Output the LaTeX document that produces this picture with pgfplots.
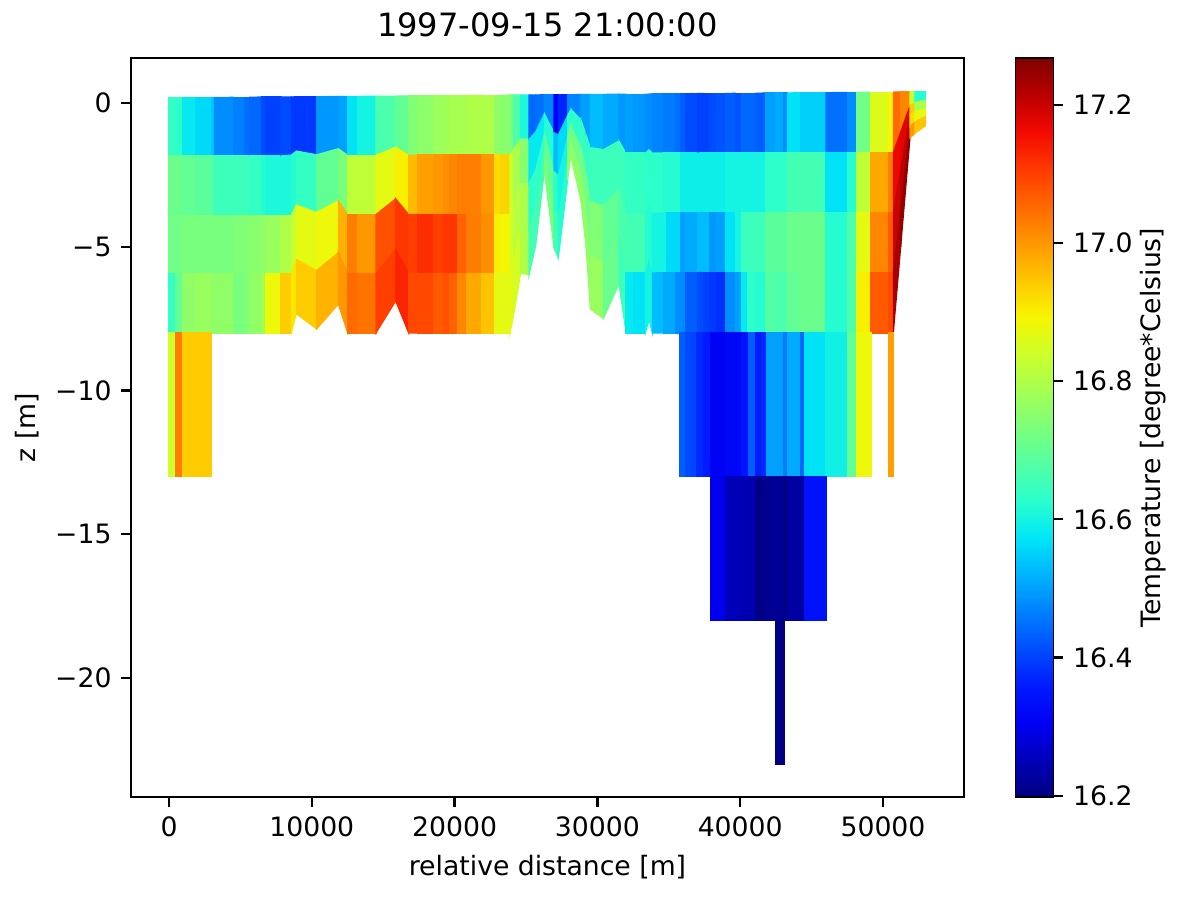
\documentclass[border=0pt]{standalone}
\usepackage{fontspec}
\setmainfont{DejaVu Sans}
\usepackage{pgfplots}
\pgfplotsset{compat=1.18}
\pgfplotsset{
  colormap={mpljet}{
    rgb=(0,0,0.5) rgb=(0,0,0.727) rgb=(0,0,0.955) rgb=(0,0.1,1) rgb=(0,0.3,1)
    rgb=(0,0.5,1) rgb=(0,0.7,1) rgb=(0,0.9,0.968) rgb=(0.161,1,0.806) rgb=(0.323,1,0.645)
    rgb=(0.484,1,0.484) rgb=(0.645,1,0.323) rgb=(0.806,1,0.161) rgb=(0.968,0.963,0) rgb=(1,0.778,0)
    rgb=(1,0.593,0) rgb=(1,0.407,0) rgb=(1,0.222,0) rgb=(0.955,0.037,0) rgb=(0.727,0,0) rgb=(0.5,0,0)
  }
}
\begin{document}
\begin{tikzpicture}
\path[use as bounding box] (-47.16bp,-36.36bp) rectangle (379.8bp,286.92bp);
\begin{axis}[
  at={(0,0)}, anchor=south west,
  scale only axis, width=299.88bp, height=266.04bp,
  xmin=-2661, xmax=55672, ymin=-24.14, ymax=1.565,
  colormap name=mpljet,
  point meta min=16.198, point meta max=17.268,
  tick align=outside, tick pos=left,
  major tick length=3.5bp,
  every tick/.style={black, line width=0.8bp},
  axis line style={line width=0.8bp},
  scaled x ticks=false,
  xtick={0,10000,20000,30000,40000,50000},
  xticklabels={0,10000,20000,30000,40000,50000},
  ytick={-20,-15,-10,-5,0},
  yticklabels={−20,−15,−10,−5,0},
  tick label style={font=\fontsize{9.6bp}{12bp}\selectfont},
  label style={font=\fontsize{9.6bp}{12bp}\selectfont},
  xlabel={relative distance [m]},
  ylabel={z [m]},
  ylabel style={yshift=-1bp},
  title={1997-09-15 21:00:00},
  title style={font=\fontsize{11.55bp}{14bp}\selectfont, yshift=-2bp},
  colorbar,
  colorbar style={
    at={(parent axis.north east)}, anchor=north west, xshift=10.08bp,
    width=13.68bp,
    tick align=outside, ytick pos=right, major tick length=3.5bp,
    ytick={16.2,16.4,16.6,16.8,17.0,17.2},
    yticklabels={16.2,16.4,16.6,16.8,17.0,17.2},
    tick label style={font=\fontsize{9.6bp}{12bp}\selectfont},
    ylabel={Temperature [degree*Celsius]},
    ylabel style={font=\fontsize{9.6bp}{12bp}\selectfont, yshift=4bp},
  },
]
% upper four layers: one line per x edge, colour belongs to the cell right of and below the vertex
\addplot[surf, shader=flat corner, point meta=explicit, mesh/ordering=y varies, mesh/rows=5] coordinates {
(0,0.18)[16.64] (0,-1.84)[16.71] (0,-3.90)[16.72] (0,-5.95)[16.64] (0,-8)[16.64]
(467,0.18)[16.63] (467,-1.84)[16.71] (467,-3.90)[16.72] (467,-5.95)[16.70] (467,-8)[16.70]
(957,0.18)[16.58] (957,-1.84)[16.70] (957,-3.90)[16.73] (957,-5.95)[16.76] (957,-8)[16.76]
(1867,0.19)[16.56] (1867,-1.84)[16.69] (1867,-3.90)[16.73] (1867,-5.95)[16.77] (1867,-8)[16.77]
(2988,0.19)[16.54] (2988,-1.84)[16.68] (2988,-3.90)[16.73] (2988,-5.95)[16.76] (2988,-8)[16.76]
(3175,0.19)[16.48] (3175,-1.84)[16.65] (3175,-3.90)[16.73] (3175,-5.95)[16.76] (3175,-8)[16.76]
(4505,0.20)[16.465] (4505,-1.84)[16.65] (4505,-3.90)[16.74] (4505,-5.95)[16.73] (4505,-8)[16.73]
(5275,0.20)[16.45] (5275,-1.84)[16.65] (5275,-3.90)[16.74] (5275,-5.95)[16.74] (5275,-8)[16.74]
(5625,0.20)[16.44] (5625,-1.84)[16.64] (5625,-3.90)[16.75] (5625,-5.95)[16.76] (5625,-8)[16.76]
(6490,0.21)[16.41] (6490,-1.84)[16.62] (6490,-3.90)[16.76] (6490,-5.95)[16.78] (6490,-8)[16.78]
(6770,0.21)[16.40] (6770,-1.84)[16.61] (6770,-3.90)[16.77] (6770,-5.95)[16.88] (6770,-8)[16.88]
(7843,0.21)[16.41] (7843,-1.84)[16.61] (7843,-3.90)[16.80] (7843,-5.95)[16.94] (7843,-8)[16.94]
(8567,0.21)[16.39] (8567,-1.81)[16.62] (8567,-3.90)[16.83] (8567,-5.95)[16.91] (8567,-8)[16.91]
(8917,0.22)[16.39] (8917,-1.67)[16.64] (8917,-3.55)[16.87] (8917,-5.44)[16.94] (8917,-7.33)[16.94]
(10341,0.22)[16.49] (10341,-1.80)[16.70] (10341,-3.81)[16.88] (10341,-5.83)[16.97] (10341,-7.86)[16.97]
(11858,0.23)[16.50] (11858,-1.59)[16.73] (11858,-3.40)[16.97] (11858,-5.20)[17.00] (11858,-7.00)[17.00]
(12512,0.23)[16.57] (12512,-1.82)[16.82] (12512,-3.88)[17.03] (12512,-5.93)[17.05] (12512,-8)[17.05]
(13189,0.23)[16.60] (13189,-1.82)[16.82] (13189,-3.88)[17.00] (13189,-5.93)[17.04] (13189,-8)[17.04]
(14497,0.24)[16.67] (14497,-1.82)[16.87] (14497,-3.88)[17.08] (14497,-5.93)[17.10] (14497,-8)[17.10]
(15874,0.24)[16.70] (15874,-1.54)[16.90] (15874,-3.33)[17.11] (15874,-5.10)[17.13] (15874,-6.89)[17.13]
(16784,0.25)[16.74] (16784,-1.82)[16.96] (16784,-3.88)[17.10] (16784,-5.93)[17.09] (16784,-8)[17.09]
(17391,0.25)[16.755] (17391,-1.81)[16.99] (17391,-3.87)[17.12] (17391,-5.92)[17.09] (17391,-8)[17.09]
(18511,0.25)[16.775] (18511,-1.81)[17.00] (18511,-3.87)[17.10] (18511,-5.92)[17.07] (18511,-8)[17.07]
(19212,0.26)[16.78] (19212,-1.81)[17.01] (19212,-3.87)[17.11] (19212,-5.92)[17.08] (19212,-8)[17.08]
(19679,0.26)[16.79] (19679,-1.81)[17.02] (19679,-3.87)[17.11] (19679,-5.92)[17.06] (19679,-8)[17.06]
(20192,0.26)[16.79] (20192,-1.81)[17.03] (20192,-3.87)[17.06] (20192,-5.92)[17.02] (20192,-8)[17.02]
(20846,0.26)[16.80] (20846,-1.81)[17.03] (20846,-3.87)[17.03] (20846,-5.92)[16.98] (20846,-8)[16.98]
(21896,0.27)[16.80] (21896,-1.81)[17.00] (21896,-3.87)[17.01] (21896,-5.92)[16.95] (21896,-8)[16.95]
(22830,0.27)[16.76] (22830,-1.81)[16.92] (22830,-3.87)[16.90] (22830,-5.92)[16.87] (22830,-8)[16.87]
(23250,0.27)[16.75] (23250,-1.81)[16.93] (23250,-3.87)[16.89] (23250,-5.92)[16.87] (23250,-8)[16.87]
(23880,0.28)[16.74] (23880,-1.81)[16.84] (23880,-3.87)[16.85] (23880,-5.92)[16.87] (23880,-8)[16.87]
(24114,0.28)[16.67] (24114,-1.62)[16.79] (24114,-3.52)[16.81] (24114,-5.42)[16.85] (24114,-7.45)[16.85]
(24627,0.28)[16.61] (24627,-1.25)[16.75] (24627,-2.82)[16.80] (24627,-4.36)[16.80] (24627,-5.92)[16.80]
(25211,0.28)[16.44] (25211,-1.26)[16.58] (25211,-2.81)[16.63] (25211,-4.36)[16.66] (25211,-5.98)[16.66]
(25678,0.28)[16.45] (25678,-1.01)[16.58] (25678,-2.33)[16.63] (25678,-3.64)[16.66] (25678,-4.97)[16.66]
(26285,0.29)[16.47] (26285,-0.37)[16.62] (26285,-1.08)[16.70] (26285,-1.76)[16.73] (26285,-2.39)[16.73]
(26962,0.29)[16.31] (26962,-1.03)[16.53] (26962,-2.39)[16.63] (26962,-3.76)[16.66] (26962,-5.05)[16.66]
(27265,0.29)[16.37] (27265,-1.11)[16.56] (27265,-2.53)[16.60] (27265,-3.97)[16.62] (27265,-5.40)[16.62]
(27919,0.29)[16.47] (27919,-0.43)[16.63] (27919,-1.17)[16.72] (27919,-1.93)[16.76] (27919,-2.68)[16.76]
(28152,0.29)[16.47] (28152,-0.21)[16.63] (28152,-0.74)[16.72] (28152,-1.29)[16.76] (28152,-1.81)[16.76]
(28269,0.29)[16.47] (28269,-0.28)[16.63] (28269,-0.94)[16.72] (28269,-1.58)[16.76] (28269,-2.16)[16.76]
(28852,0.30)[16.50] (28852,-0.59)[16.64] (28852,-1.53)[16.72] (28852,-2.47)[16.76] (28852,-3.41)[16.76]
(29210,0.30)[16.50] (29210,-1.11)[16.64] (29210,-2.41)[16.72] (29210,-3.72)[16.76] (29210,-5.05)[16.76]
(29506,0.30)[16.53] (29506,-1.55)[16.65] (29506,-3.43)[16.74] (29506,-5.32)[16.77] (29506,-7.17)[16.77]
(30416,0.30)[16.51] (30416,-1.62)[16.65] (30416,-3.58)[16.70] (30416,-5.54)[16.71] (30416,-7.50)[16.71]
(31514,0.31)[16.49] (31514,-1.32)[16.65] (31514,-2.98)[16.67] (31514,-4.63)[16.65] (31514,-6.30)[16.65]
(32004,0.31)[16.50] (32004,-1.74)[16.64] (32004,-3.84)[16.66] (32004,-5.91)[16.58] (32004,-8)[16.58]
(32564,0.31)[16.49] (32564,-1.74)[16.64] (32564,-3.84)[16.66] (32564,-5.91)[16.57] (32564,-8)[16.57]
(33358,0.31)[16.48] (33358,-1.74)[16.63] (33358,-3.84)[16.62] (33358,-5.91)[16.60] (33358,-8)[16.60]
(33614,0.31)[16.48] (33614,-1.63)[16.63] (33614,-3.60)[16.62] (33614,-5.57)[16.60] (33614,-7.55)[16.60]
(33848,0.32)[16.47] (33848,-1.74)[16.63] (33848,-3.84)[16.60] (33848,-5.91)[16.53] (33848,-8)[16.53]
(34618,0.32)[16.46] (34618,-1.74)[16.62] (34618,-3.82)[16.60] (34618,-5.90)[16.51] (34618,-8)[16.51]
(34851,0.32)[16.46] (34851,-1.74)[16.62] (34851,-3.82)[16.56] (34851,-5.90)[16.51] (34851,-8)[16.51]
(35460,0.32)[16.45] (35460,-1.74)[16.62] (35460,-3.82)[16.56] (35460,-5.90)[16.48] (35460,-8)[16.48]
(35810,0.32)[16.43] (35810,-1.74)[16.59] (35810,-3.82)[16.50] (35810,-5.90)[16.48] (35810,-8)[16.48]
(36183,0.32)[16.41] (36183,-1.74)[16.59] (36183,-3.82)[16.51] (36183,-5.90)[16.43] (36183,-8)[16.43]
(36603,0.33)[16.41] (36603,-1.74)[16.59] (36603,-3.82)[16.51] (36603,-5.90)[16.43] (36603,-8)[16.43]
(36999,0.33)[16.40] (36999,-1.74)[16.59] (36999,-3.82)[16.53] (36999,-5.90)[16.41] (36999,-8)[16.41]
(37443,0.33)[16.40] (37443,-1.72)[16.59] (37443,-3.80)[16.53] (37443,-5.89)[16.40] (37443,-8)[16.40]
(37886,0.33)[16.41] (37886,-1.72)[16.59] (37886,-3.80)[16.49] (37886,-5.89)[16.39] (37886,-8)[16.39]
(38353,0.33)[16.42] (38353,-1.72)[16.59] (38353,-3.80)[16.50] (38353,-5.89)[16.38] (38353,-8)[16.38]
(38960,0.33)[16.43] (38960,-1.72)[16.60] (38960,-3.80)[16.57] (38960,-5.89)[16.48] (38960,-8)[16.48]
(39660,0.34)[16.42] (39660,-1.72)[16.60] (39660,-3.80)[16.60] (39660,-5.89)[16.50] (39660,-8)[16.50]
(40080,0.34)[16.44] (40080,-1.72)[16.60] (40080,-3.80)[16.65] (40080,-5.89)[16.58] (40080,-8)[16.58]
(40500,0.34)[16.44] (40500,-1.72)[16.60] (40500,-3.80)[16.65] (40500,-5.89)[16.63] (40500,-8)[16.63]
(41108,0.34)[16.43] (41108,-1.72)[16.60] (41108,-3.80)[16.65] (41108,-5.89)[16.62] (41108,-8)[16.62]
(41808,0.35)[16.50] (41808,-1.72)[16.63] (41808,-3.80)[16.69] (41808,-5.89)[16.68] (41808,-8)[16.68]
(42462,0.35)[16.51] (42462,-1.72)[16.63] (42462,-3.80)[16.69] (42462,-5.89)[16.67] (42462,-8)[16.67]
(43068,0.35)[16.48] (43068,-1.72)[16.63] (43068,-3.80)[16.69] (43068,-5.89)[16.67] (43068,-8)[16.67]
(43301,0.35)[16.57] (43301,-1.72)[16.66] (43301,-3.80)[16.71] (43301,-5.89)[16.70] (43301,-8)[16.70]
(44259,0.36)[16.55] (44259,-1.72)[16.66] (44259,-3.80)[16.71] (44259,-5.89)[16.71] (44259,-8)[16.71]
(44563,0.36)[16.55] (44563,-1.72)[16.66] (44563,-3.80)[16.71] (44563,-5.89)[16.71] (44563,-8)[16.71]
(46010,0.36)[16.45] (46010,-1.72)[16.57] (46010,-3.80)[16.62] (46010,-5.89)[16.62] (46010,-8)[16.62]
(47528,0.37)[16.48] (47528,-1.72)[16.62] (47528,-3.80)[16.67] (47528,-5.89)[16.67] (47528,-8)[16.67]
(48158,0.37)[16.72] (48158,-1.72)[16.82] (48158,-3.80)[16.87] (48158,-5.89)[16.90] (48158,-8)[16.90]
(49138,0.38)[16.86] (49138,-1.72)[16.98] (49138,-3.80)[17.02] (49138,-5.89)[17.07] (49138,-8)[17.07]
(50399,0.38)[16.89] (50399,-1.72)[17.03] (50399,-3.80)[17.07] (50399,-5.89)[17.09] (50399,-8)[17.09]
(50725,0.38)[17.05] (50725,-1.72)[17.17] (50725,-3.80)[17.20] (50725,-5.89)[17.23] (50725,-8)[17.23]
(51239,0.39)[17.02] (51239,-1.00)[17.18] (51239,-2.32)[17.21] (51239,-3.66)[17.25] (51239,-5.01)[17.25]
(51893,0.39)[16.83] (51893,-0.09)[16.94] (51893,-0.42)[16.92] (51893,-0.82)[17.00] (51893,-1.21)[17.00]
(52243,0.39)[16.62] (52243,0.02)[16.79] (52243,-0.30)[16.87] (52243,-0.65)[16.95] (52243,-1.05)[16.95]
(52985,0.39)[16.62] (52985,0.10)[16.79] (52985,-0.19)[16.87] (52985,-0.47)[16.95] (52985,-0.79)[16.95]
};
% deeper blocks, one row of cells each
\addplot[surf, shader=flat corner, point meta=explicit, mesh/ordering=y varies, mesh/rows=2] coordinates {
(0,-8)[16.84] (0,-13)[16.84]
(467,-8)[17.03] (467,-13)[17.03]
(957,-8)[16.94] (957,-13)[16.94]
(2988,-8)[16.94] (2988,-13)[16.94]
};
\addplot[surf, shader=flat corner, point meta=explicit, mesh/ordering=y varies, mesh/rows=2] coordinates {
(35785,-8)[16.43] (35785,-13)[16.43]
(36205,-8)[16.41] (36205,-13)[16.41]
(36602,-8)[16.405] (36602,-13)[16.405]
(36952,-8)[16.375] (36952,-13)[16.375]
(37466,-8)[16.36] (37466,-13)[16.36]
(37956,-8)[16.31] (37956,-13)[16.31]
(38983,-8)[16.32] (38983,-13)[16.32]
(40060,-8)[16.345] (40060,-13)[16.345]
(40550,-8)[16.43] (40550,-13)[16.43]
(41108,-8)[16.36] (41108,-13)[16.36]
(41505,-8)[16.375] (41505,-13)[16.375]
(41878,-8)[16.50] (41878,-13)[16.50]
(43068,-8)[16.46] (43068,-13)[16.46]
(43348,-8)[16.51] (43348,-13)[16.51]
(44259,-8)[16.44] (44259,-13)[16.44]
(44540,-8)[16.57] (44540,-13)[16.57]
(46010,-8)[16.595] (46010,-13)[16.595]
(47528,-8)[16.70] (47528,-13)[16.70]
(48180,-8)[16.88] (48180,-13)[16.88]
(49161,-8)[16.88] (49161,-13)[16.88]
};
\addplot[surf, shader=flat corner, point meta=explicit, mesh/ordering=y varies, mesh/rows=2] coordinates {
(50422,-8)[16.99] (50422,-13)[16.99]
(50702,-8)[16.99] (50702,-13)[16.99]
};
\addplot[surf, shader=flat corner, point meta=explicit, mesh/ordering=y varies, mesh/rows=2] coordinates {
(37956,-13)[16.30] (37956,-18)[16.30]
(38983,-13)[16.25] (38983,-18)[16.25]
(40060,-13)[16.245] (40060,-18)[16.245]
(41108,-13)[16.205] (41108,-18)[16.205]
(41878,-13)[16.215] (41878,-18)[16.215]
(43068,-13)[16.205] (43068,-18)[16.205]
(43348,-13)[16.23] (43348,-18)[16.23]
(44540,-13)[16.34] (44540,-18)[16.34]
(46010,-13)[16.34] (46010,-18)[16.34]
};
\addplot[surf, shader=flat corner, point meta=explicit, mesh/ordering=y varies, mesh/rows=2] coordinates {
(42508,-18)[16.20] (42508,-23)[16.20]
(43068,-18)[16.20] (43068,-23)[16.20]
};
\end{axis}
\end{tikzpicture}
\end{document}
